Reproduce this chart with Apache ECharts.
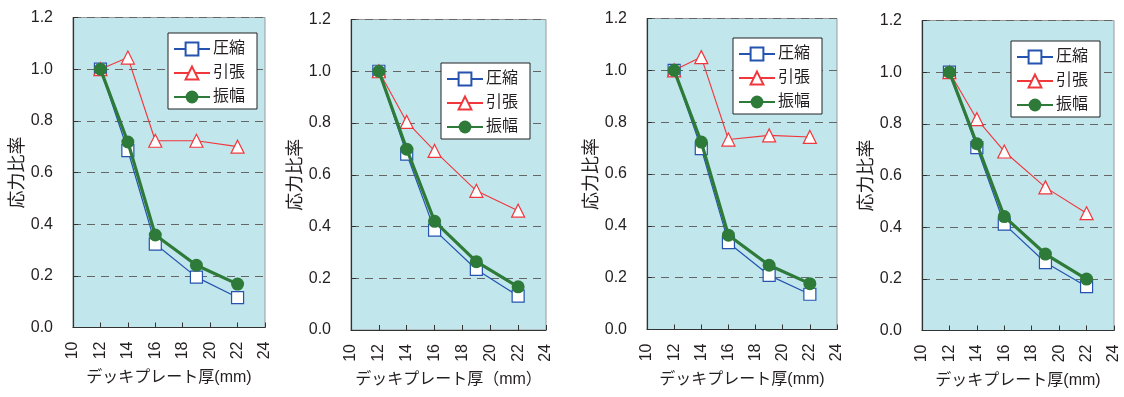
<!DOCTYPE html>
<html><head><meta charset="utf-8">
<script src="https://cdn.jsdelivr.net/npm/echarts@6/dist/echarts.min.js"></script>
<style>html,body{margin:0;padding:0;background:#fff}#c{width:1124px;height:397px}</style>
</head><body><div id="c"></div>
<script>
const thickness = [12, 14, 16, 19, 22];
const seriesNames = ['圧縮', '引張', '振幅'];
const xTicks = [10, 12, 14, 16, 18, 20, 22, 24];
const yTicks = [0.0, 0.2, 0.4, 0.6, 0.8, 1.0, 1.2];
const xNames = ['デッキプレート厚(mm)', 'デッキプレート厚（mm）', 'デッキプレート厚(mm)', 'デッキプレート厚(mm)'];
const yName = '応力比率';

const compression1 = [1.0, 0.685, 0.323, 0.195, 0.116];
const tension1     = [1.0, 1.045, 0.723, 0.723, 0.700];
const amplitude1   = [1.0, 0.718, 0.358, 0.241, 0.168];
const compression2 = [1.0, 0.680, 0.386, 0.234, 0.131];
const tension2     = [1.0, 0.804, 0.692, 0.538, 0.461];
const amplitude2   = [1.0, 0.699, 0.420, 0.264, 0.167];
const compression3 = [1.0, 0.698, 0.335, 0.209, 0.136];
const tension3     = [1.0, 1.051, 0.733, 0.749, 0.743];
const amplitude3   = [1.0, 0.723, 0.364, 0.248, 0.177];
const compression4 = [1.0, 0.708, 0.412, 0.263, 0.170];
const tension4     = [1.0, 0.818, 0.693, 0.554, 0.454];
const amplitude4   = [1.0, 0.723, 0.441, 0.296, 0.199];

const panels = [
  [compression1, tension1, amplitude1],
  [compression2, tension2, amplitude2],
  [compression3, tension3, amplitude3],
  [compression4, tension4, amplitude4]
];

const grids = [
  {left: 73, top: 17.5, width: 192, height: 310},
  {left: 351, top: 19.5, width: 195, height: 310.5},
  {left: 647, top: 18.5, width: 190, height: 311},
  {left: 922, top: 20.5, width: 192, height: 310}
];
const legendPos = [
  {left: 168, top: 33},
  {left: 441, top: 63},
  {left: 733, top: 38},
  {left: 1011, top: 41}
];

const txt = '#231f20';
const font = "'Liberation Sans', Arial, 'Noto Sans CJK JP', sans-serif";
const cjk = "'Liberation Sans', 'Noto Sans CJK JP', sans-serif";
const styles = [
  {color: '#2453b0', width: 1.2, symbol: 'rect', size: 12, fill: '#ffffff', bw: 1.2},
  {color: '#f0373c', width: 1.1, symbol: 'triangle', size: 13, fill: '#ffffff', bw: 1.2},
  {color: '#2e7a38', width: 3.2, symbol: 'circle', size: 13, fill: '#2e7a38', bw: 0}
];

const option = {
  animation: false,
  backgroundColor: '#ffffff',
  textStyle: {fontFamily: font, color: txt},
  grid: grids.map(g => Object.assign({show: true, backgroundColor: '#c1e6ec', borderColor: '#9a9a9a', borderWidth: 1}, g)),
  xAxis: grids.map((g, i) => ({
    type: 'value', gridIndex: i, min: xTicks[0], max: xTicks[xTicks.length - 1], interval: 2,
    name: xNames[i], nameLocation: 'middle', nameGap: 42,
    nameTextStyle: {fontSize: 16, color: txt, fontFamily: cjk},
    axisLine: {show: true, lineStyle: {color: '#333', width: 1.2}},
    axisTick: {show: true, inside: true, length: 5, lineStyle: {color: '#333'}},
    axisLabel: {rotate: 90, fontSize: 16, color: txt, margin: 14, fontFamily: font},
    splitLine: {show: false}
  })),
  yAxis: grids.map((g, i) => ({
    type: 'value', gridIndex: i, min: yTicks[0], max: yTicks[yTicks.length - 1], interval: 0.2,
    name: yName, nameLocation: 'middle', nameGap: 46,
    nameTextStyle: {fontSize: 18, color: txt, fontFamily: cjk},
    axisLine: {show: true, lineStyle: {color: '#333', width: 1.2}},
    axisTick: {show: true, inside: true, length: 5, lineStyle: {color: '#333'}},
    axisLabel: {fontSize: 16, color: txt, margin: 20, fontFamily: font, formatter: v => v.toFixed(1)},
    splitLine: {show: true, lineStyle: {color: '#666', type: [8, 6], width: 1}}
  })),
  legend: legendPos.map(p => ({
    left: p.left, top: p.top, orient: 'vertical',
    data: seriesNames,
    itemWidth: 36, itemHeight: 16, itemGap: 8,
    padding: [8, 12, 4, 5],
    borderColor: '#222', borderWidth: 1, backgroundColor: '#ffffff',
    textStyle: {fontSize: 16, color: txt, fontFamily: cjk, padding: [0, 0, 0, -2]},
    selectedMode: false
  })),
  series: []
};

panels.forEach((vals, pi) => {
  vals.forEach((arr, si) => {
    const s = styles[si];
    option.series.push({
      type: 'line', name: seriesNames[si], xAxisIndex: pi, yAxisIndex: pi,
      data: thickness.map((x, k) => [x, arr[k]]),
      symbol: s.symbol, symbolSize: s.size,
      lineStyle: {color: s.color, width: s.width},
      itemStyle: {color: s.fill, borderColor: s.color, borderWidth: s.bw},
      z: 2 + si
    });
  });
});

const chart = echarts.init(document.getElementById('c'), null, {renderer: 'canvas'});
chart.setOption(option);
</script></body></html>
